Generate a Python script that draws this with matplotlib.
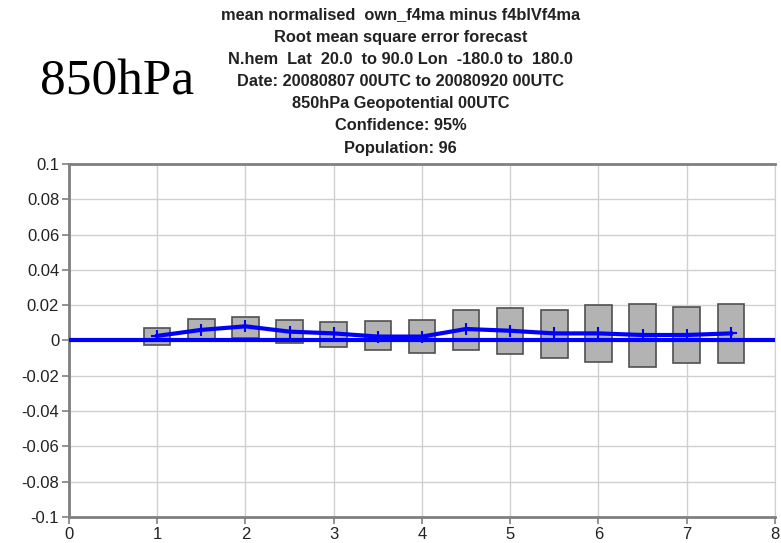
import numpy as np
import matplotlib
matplotlib.use("Agg")
import matplotlib.pyplot as plt

# forecast step (days) and box / mean values
steps = [1, 1.5, 2, 2.5, 3, 3.5, 4, 4.5, 5, 5.5, 6, 6.5, 7, 7.5]
box_top = [0.0073, 0.0120, 0.0135, 0.0116, 0.0107, 0.0110, 0.0116,
           0.0173, 0.0182, 0.0173, 0.0201, 0.0207, 0.0191, 0.0207]
box_bot = [-0.0025, 0.0003, 0.0016, -0.0012, -0.0035, -0.0054, -0.0073,
           -0.0054, -0.0077, -0.0101, -0.0120, -0.0148, -0.0129, -0.0126]
mean_vals = [0.0026, 0.0060, 0.0080, 0.0050, 0.0040, 0.0022, 0.0022,
             0.0065, 0.0055, 0.0040, 0.0040, 0.0031, 0.0031, 0.0040]

yticks = [-0.1, -0.08, -0.06, -0.04, -0.02, 0, 0.02, 0.04, 0.06, 0.08, 0.1]
ytick_labels = ["-0.1", "-0.08", "-0.06", "-0.04", "-0.02", "0",
                "0.02", "0.04", "0.06", "0.08", "0.1"]
xticks = [0, 1, 2, 3, 4, 5, 6, 7, 8]

title_lines = [
    "mean normalised  own_f4ma minus f4blVf4ma",
    "Root mean square error forecast",
    "N.hem  Lat  20.0  to 90.0 Lon  -180.0 to  180.0",
    "Date: 20080807 00UTC to 20080920 00UTC",
    "850hPa Geopotential 00UTC",
    "Confidence: 95%",
    "Population: 96",
]

fig = plt.figure(figsize=(7.81, 5.43), dpi=100)
ax = fig.add_axes([0.0883, 0.048, 0.904, 0.650])

heights = np.array(box_top) - np.array(box_bot)
ax.bar(steps, heights, bottom=box_bot, width=0.3, color="#b3b3b3",
       edgecolor="#505050", linewidth=1.2, zorder=3)

ax.axhline(0, color="#0000ff", lw=3, zorder=4)
ax.plot(steps, mean_vals, color="#0000ff", lw=3, marker="+",
        markersize=8, markeredgewidth=1.5, zorder=5)

ax.set_xlim(0, 8)
ax.set_ylim(-0.1, 0.1)
ax.set_xticks(xticks)
ax.set_yticks(yticks)
ax.set_yticklabels(ytick_labels)
ax.grid(True, color="#d0d0d0", lw=1)
ax.set_axisbelow(True)
for side in ["left", "bottom", "top"]:
    ax.spines[side].set_color("#808080")
    ax.spines[side].set_linewidth(2)
ax.spines["right"].set_color("#d0d0d0")
ax.tick_params(colors="#808080", length=5, width=1.2, pad=2,
               labelcolor="#222222", labelsize=12)
for lbl in ax.get_xticklabels() + ax.get_yticklabels():
    lbl.set_family("Liberation Sans")

for i, line in enumerate(title_lines):
    fig.text(0.513, 1 - (15 + i * 22.2) / 543, line, ha="center", va="center",
             fontsize=11.8, family="Liberation Sans", fontweight="bold",
             color="#222222")

fig.text(0.051, 1 - 82 / 543, "850hPa", ha="left", va="center",
         fontsize=37, family="Liberation Serif")

fig.savefig("out.png", dpi=100)
